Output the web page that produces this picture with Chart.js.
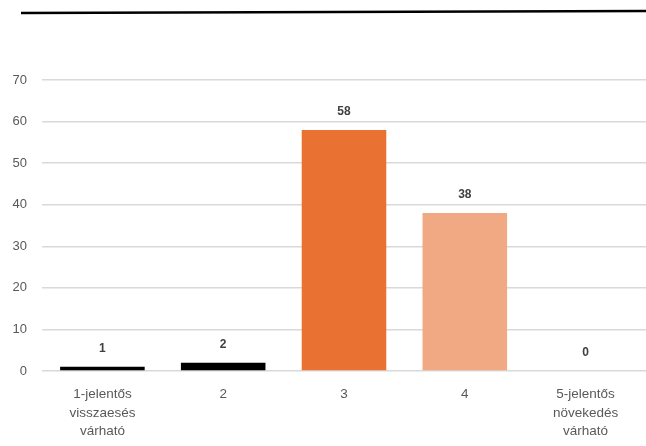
<!DOCTYPE html>
<html>
<head>
<meta charset="utf-8">
<script src="https://cdn.jsdelivr.net/npm/chart.js@4"></script>
<style>
  html, body { margin: 0; padding: 0; background: #fff; }
  #wrap { position: relative; width: 646px; height: 446px; overflow: hidden; }
</style>
</head>
<body>
<div id="wrap"><canvas id="chart" width="646" height="446"></canvas></div>
<script>
// data
const categories = [
  ['1-jelentős', 'visszaesés', 'várható'],
  '2',
  '3',
  '4',
  ['5-jelentős', 'növekedés', 'várható']
];
const values = [1, 2, 58, 38, 0];
const barColors = ['#000000', '#000000', '#E97132', '#F1A983', '#F1A983'];
const yTicks = [0, 10, 20, 30, 40, 50, 60, 70];

const labelFont = "'Liberation Sans', Arial, sans-serif";
const tickColor = '#595959';

// value labels above each bar
const valueLabels = {
  id: 'valueLabels',
  afterDatasetsDraw(chart) {
    const ctx = chart.ctx;
    const meta = chart.getDatasetMeta(0);
    ctx.save();
    ctx.font = `bold 12px ${labelFont}`;
    ctx.fillStyle = '#404040';
    ctx.textAlign = 'center';
    ctx.textBaseline = 'middle';
    meta.data.forEach((bar, i) => {
      ctx.fillText(String(values[i]), bar.x, bar.y - 18);
    });
    ctx.restore();
  }
};

// thin black rule across the top of the picture
const topRule = {
  id: 'topRule',
  beforeDraw(chart) {
    const ctx = chart.ctx;
    ctx.save();
    ctx.strokeStyle = '#000';
    ctx.lineWidth = 2.5;
    ctx.beginPath();
    ctx.moveTo(21, 13);
    ctx.lineTo(646, 11);
    ctx.stroke();
    ctx.restore();
  }
};

new Chart(document.getElementById('chart'), {
  type: 'bar',
  data: {
    labels: categories,
    datasets: [{
      data: values,
      backgroundColor: barColors,
      borderWidth: 0,
      barPercentage: 0.7,
      categoryPercentage: 1.0
    }]
  },
  options: {
    responsive: false,
    animation: false,
    layout: { padding: { top: 80, left: 0, right: 0, bottom: 0 } },
    plugins: {
      legend: { display: false },
      tooltip: { enabled: false }
    },
    scales: {
      y: {
        min: 0,
        max: 70,
        afterBuildTicks: (scale) => { scale.ticks = yTicks.map(v => ({ value: v })); },
        afterFit: (scale) => { scale.width = 42; },
        border: { display: false },
        grid: { color: '#d9d9d9', lineWidth: 1.5, drawTicks: false },
        ticks: { color: tickColor, padding: 15, font: { family: labelFont, size: 13 } }
      },
      x: {
        afterFit: (scale) => { scale.height = 75; },
        border: { display: false },
        grid: { display: false, drawTicks: false },
        ticks: {
          color: tickColor,
          padding: 14,
          maxRotation: 0,
          autoSkip: false,
          font: { family: labelFont, size: 13.5, lineHeight: 1.38 }
        }
      }
    }
  },
  plugins: [valueLabels, topRule]
});
</script>
</body>
</html>
